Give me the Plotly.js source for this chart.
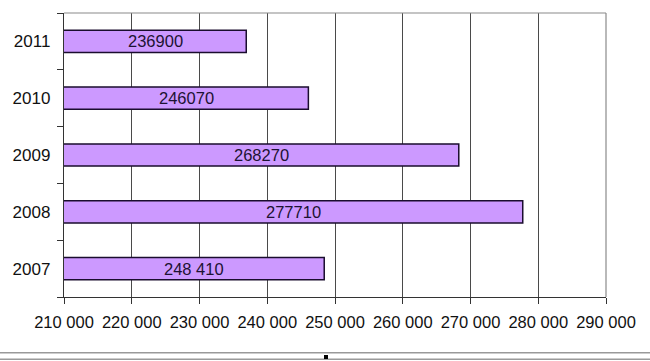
<!DOCTYPE html>
<html>
<head>
<meta charset="utf-8">
<script src="https://cdn.plot.ly/plotly-3.0.1.min.js"></script>
<style>html,body{margin:0;padding:0;background:#fff;}#chart{width:650px;height:361px;}</style>
</head>
<body>
<div id="chart"></div>
<script>
const years = ["2007", "2008", "2009", "2010", "2011"];
const values = [248410, 277710, 268270, 246070, 236900];
const valueLabels = ["248 410", "277710", "268270", "246070", "236900"];
const xTicks = [210000, 220000, 230000, 240000, 250000, 260000, 270000, 280000, 290000];
const xStart = 210000;

const W = 650, H = 361, L = 64, R = 44, T = 13, B = 64;
const pw = W - L - R, ph = H - T - B;
const px = v => (v - L) / pw;
const py = v => (H - B - v) / ph;

const trace = {
  type: "bar",
  orientation: "h",
  y: years,
  x: values,
  width: 0.39,
  marker: {color: "#cc99ff", line: {color: "#1a0d2e", width: 1.5}},
  hoverinfo: "none"
};

const annotations = years.map((yr, i) => ({
  x: (xStart + values[i]) / 2,
  y: i,
  xref: "x", yref: "y",
  text: valueLabels[i],
  showarrow: false,
  xanchor: "center", yanchor: "middle",
  font: {family: "Liberation Sans, Arial, sans-serif", size: 16.5, color: "#1c1233"}
}));

const layout = {
  width: W, height: H,
  margin: {l: L, r: R, t: T, b: B, pad: 0},
  paper_bgcolor: "#ffffff",
  plot_bgcolor: "#ffffff",
  showlegend: false,
  separators: ". ",
  font: {family: "Liberation Sans, Arial, sans-serif", size: 16, color: "#111"},
  xaxis: {
    range: [xStart, 290000],
    tickvals: xTicks,
    tickformat: ",d",
    showgrid: true,
    gridcolor: "#4a4a4a",
    gridwidth: 1,
    showline: true,
    linecolor: "#333",
    linewidth: 1.2,
    ticks: "outside",
    ticklen: 6,
    tickcolor: "#333",
    ticklabelstandoff: 4,
    tickfont: {size: 16.5, color: "#111"},
    zeroline: false,
    fixedrange: true
  },
  yaxis: {
    type: "category",
    categoryorder: "array",
    categoryarray: years,
    range: [-0.5, years.length - 0.5],
    tickson: "boundaries",
    ticks: "outside",
    ticklen: 6,
    tickcolor: "#333",
    showline: true,
    linecolor: "#333",
    linewidth: 1.2,
    showgrid: false,
    ticklabelstandoff: 9,
    tickfont: {size: 17, color: "#111"},
    fixedrange: true
  },
  annotations: annotations,
  shapes: [
    {type: "line", xref: "paper", yref: "paper", x0: 0, x1: 1, y0: 1, y1: 1, line: {color: "#8a8a8a", width: 1.2}},
    {type: "line", xref: "paper", yref: "paper", x0: 1, x1: 1, y0: 0, y1: 1, line: {color: "#8a8a8a", width: 1.2}},
    {type: "line", xref: "paper", yref: "paper", x0: px(0), x1: px(W), y0: py(352.7), y1: py(352.7), line: {color: "#999", width: 1.5}},
    {type: "line", xref: "paper", yref: "paper", x0: px(0), x1: px(W), y0: py(359.3), y1: py(359.3), line: {color: "#999", width: 1.5}},
    {type: "rect", xref: "paper", yref: "paper", x0: px(324), x1: px(328), y0: py(355), y1: py(359), fillcolor: "#000", line: {width: 0}}
  ]
};

Plotly.newPlot("chart", [trace], layout, {displayModeBar: false, staticPlot: true});
</script>
</body>
</html>
